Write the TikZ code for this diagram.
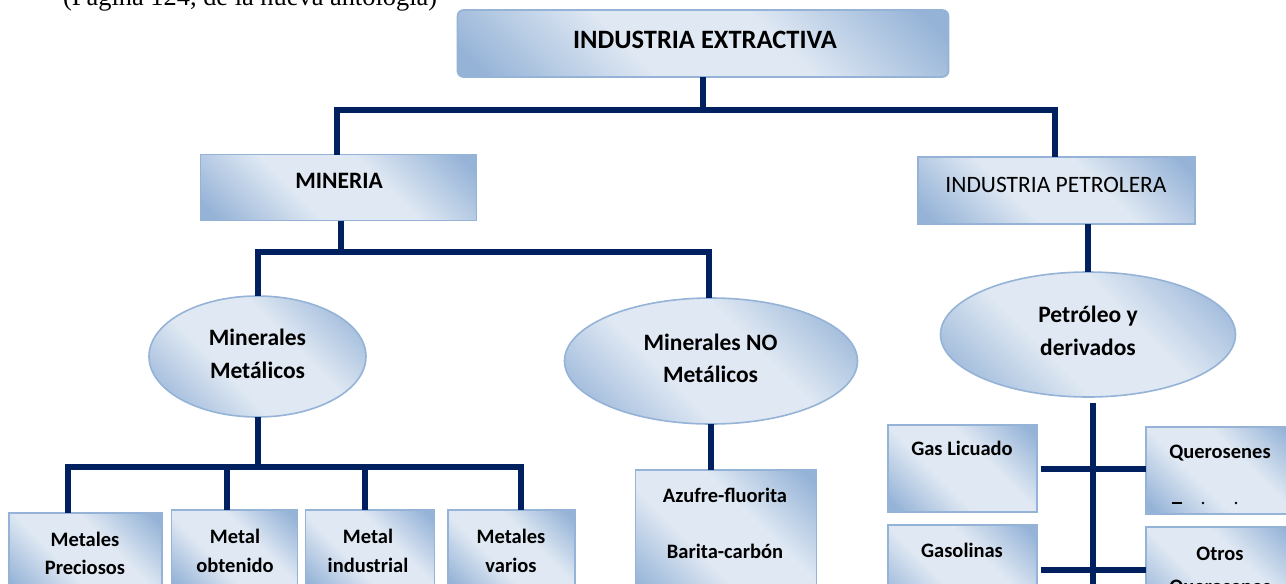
\documentclass[tikz,border=0pt]{standalone}
\usepackage{fontspec}
\setmainfont{Carlito}
\newfontfamily\serifrm{Liberation Serif}
\usetikzlibrary{shapes.geometric}
\definecolor{lnk}{HTML}{002060}
\definecolor{bdark}{HTML}{95B3D7}
\definecolor{blight}{HTML}{DFE8F3}
\definecolor{bedge}{HTML}{95B3D7}
\pgfdeclarehorizontalshading{diagshade}{100bp}{color(0bp)=(bdark); color(18bp)=(bdark); color(40bp)=(blight); color(60bp)=(blight); color(82bp)=(bdark); color(100bp)=(bdark)}
\tikzset{
  shapebox/.style={draw=bedge, line width=1.6pt, shading=diagshade, shading angle=45, inner sep=0pt, outer sep=0pt},
  ovalbox/.style={shapebox, ellipse},
  conn/.style={draw=lnk, line width=6pt},
  btxt/.style={inner sep=0pt, anchor=base, font=\bfseries\fontsize{20.5}{24}\selectfont},
  etxt/.style={inner sep=0pt, anchor=base, font=\bfseries\fontsize{23.5}{28}\selectfont},
}
\begin{document}
\begin{tikzpicture}[x=1pt,y=-1pt]
\useasboundingbox (0,0) rectangle (1286,584);
\begin{scope}
\clip (0,0) rectangle (1286,584);
\node[inner sep=0pt, anchor=base west, font=\serifrm\fontsize{26.4}{30}\selectfont] (page) at (63,5) {(Página 124, de la nueva antología)};

% shapes
\node[shapebox, rounded corners=6pt, minimum width=491, minimum height=67] (top) at (703,43.5) {};
\node[shapebox, minimum width=276, minimum height=66] (min) at (338.5,187.5) {};
\node[shapebox, minimum width=277, minimum height=67] (pet) at (1056.5,190.5) {};
\node[ovalbox, minimum width=217, minimum height=121] (mm) at (257.5,356.5) {};
\node[ovalbox, minimum width=293, minimum height=126] (mnm) at (711,361) {};
\node[ovalbox, minimum width=295, minimum height=125] (pd) at (1088,334.5) {};
\node[shapebox, minimum width=153, minimum height=80] (b1) at (85.5,553) {};
\node[shapebox, minimum width=126, minimum height=80] (b2) at (234.5,550) {};
\node[shapebox, minimum width=129, minimum height=80] (b3) at (370,550) {};
\node[shapebox, minimum width=127, minimum height=80] (b4) at (511.5,550) {};
\node[shapebox, minimum width=181, minimum height=130] (az) at (726,535) {};
\node[shapebox, minimum width=149, minimum height=87] (gl) at (962.5,468.5) {};
\node[shapebox, minimum width=149, minimum height=87] (qu) at (1220.5,470.5) {};
\node[shapebox, minimum width=149, minimum height=87] (ga) at (962.5,568.5) {};
\node[shapebox, minimum width=149, minimum height=87] (ot) at (1220.5,570.5) {};

% texts
\node[inner sep=0pt, anchor=base, font=\bfseries\fontsize{26.5}{30}\selectfont] (topT) at (705,48.5) {INDUSTRIA EXTRACTIVA};
\node[etxt] (minT) at (339,188) {MINERIA};
\node[inner sep=0pt, anchor=base, font=\fontsize{23.5}{28}\selectfont] (petT) at (1056,192) {INDUSTRIA PETROLERA};
\node[etxt] (mmT1) at (257.5,345) {Minerales};
\node[etxt] (mmT2) at (257.5,378) {Metálicos};
\node[etxt] (mnmT1) at (710.5,350) {Minerales NO};
\node[etxt] (mnmT2) at (710.5,382) {Metálicos};
\node[etxt] (pdT1) at (1088,322) {Petróleo y};
\node[etxt] (pdT2) at (1088,355) {derivados};
\node[btxt] (b1T1) at (85,546) {Metales};
\node[btxt] (b1T2) at (85,574) {Preciosos};
\node[btxt] (b2T1) at (235,543) {Metal};
\node[btxt] (b2T2) at (235,572) {obtenido};
\node[btxt] (b3T1) at (368,543) {Metal};
\node[btxt] (b3T2) at (368,572) {industrial};
\node[btxt] (b4T1) at (511,543) {Metales};
\node[btxt] (b4T2) at (511,572) {varios};
\node[btxt] (azT1) at (725,502) {Azufre-fluorita};
\node[btxt] (azT2) at (725,558) {Barita-carbón};
\node[btxt] (glT) at (962,455) {Gas Licuado};
\node[btxt] (quT) at (1220,458) {Querosenes};
\node[btxt] (gaT) at (962,557) {Gasolinas};
\node[btxt] (otT1) at (1220,560) {Otros};
\node[btxt] (otT2) at (1220,593) {Querosenes};
\fill[black] (1172,502) rectangle (1182,504);
\fill[black] (1203,503) circle (1.4);
\fill[black] (1236,503) circle (1.4);

% connectors
\coordinate (j1) at (703,109.5);
\coordinate (j2) at (340,251.5);
\coordinate (j3) at (257.5,467);
\coordinate (d1) at (68,513);
\coordinate (d2) at (227,510);
\coordinate (d3) at (365,510);
\coordinate (d4) at (521,510);
\coordinate (v1) at (1092.5,403);
\coordinate (v2) at (1092.5,600);
\coordinate (c1) at (1041,469);
\coordinate (c2) at (1041,570);

\draw[conn] (top.south) -- (j1);
\draw[conn] ([xshift=-1.5pt]min.north) |- (j1) -| ([xshift=-1.5pt]pet.north);
\draw[conn] ([xshift=2.5pt]min.south) -- ([xshift=2.5pt]min.south |- j2);
\draw[conn] (mm.north) |- (j2) -| ([xshift=-2pt]mnm.north);
\draw[conn] (pet.south -| pd.north) -- (pd.north);
\draw[conn] (mm.south) -- (j3);
\draw[conn] (d1) |- (j3) -| (d4);
\draw[conn] (d2) -- (d2 |- j3);
\draw[conn] (d3) -- (d3 |- j3);
\draw[conn] (mnm.south) -- (mnm.south |- az.north);
\draw[conn] (v1) -- (v2);
\draw[conn] (c1) -- (c1 -| qu.west);
\draw[conn] (c2) -- (c2 -| ot.west);
\end{scope}
\end{tikzpicture}
\end{document}
